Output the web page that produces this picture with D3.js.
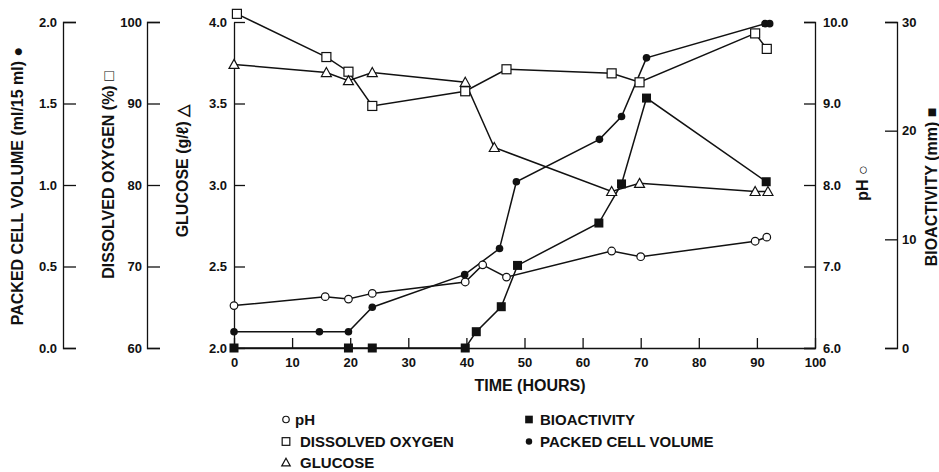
<!DOCTYPE html>
<html><head><meta charset="utf-8">
<script src="https://cdn.jsdelivr.net/npm/d3@7"></script>
<style>
body{margin:0;background:#fff}
text{font-family:"Liberation Sans",Arial,Helvetica,sans-serif;font-weight:bold;fill:#111}
</style></head>
<body><svg id="c" width="939" height="472"></svg>
<script>
// ---- data ----
const timeTicks = [0,10,20,30,40,50,60,70,80,90,100];
const pcvTicks = [0,0.5,1,1.5,2];
const doTicks = [60,70,80,90,100];
const glucoseTicks = [2,2.5,3,3.5,4];
const phTicks = [6,7,8,9,10];
const bioTicks = [0,10,20,30];

const doTime = [0.5,15.9,19.7,23.8,39.8,46.9,65.0,69.8,89.7,91.7];
const doVal  = [101,95.7,93.9,89.7,91.5,94.2,93.7,92.6,98.6,96.7];

const gluTime = [0,15.9,19.7,23.8,39.8,44.8,65.0,69.8,89.7,91.9];
const gluVal  = [3.74,3.69,3.64,3.69,3.63,3.23,2.96,3.01,2.96,2.96];

const phTime = [0,15.7,19.7,23.8,39.8,42.8,46.9,65.0,70.0,89.7,91.7];
const phVal  = [6.52,6.63,6.60,6.67,6.81,7.02,6.87,7.19,7.12,7.31,7.36];

const pcvTime = [0,14.7,19.7,23.8,39.7,45.7,48.6,62.9,66.7,71.0,91.4,92.2];
const pcvVal  = [0.10,0.10,0.10,0.25,0.45,0.61,1.02,1.28,1.42,1.78,1.99,1.99];

const bioTime = [0,19.7,23.8,39.8,41.7,46.0,48.8,62.8,66.7,71.0,91.6];
const bioVal  = [0,0,0,0,1.5,3.8,7.6,11.5,15.1,23.0,15.3];

const legendRows = [
  {label:"pH", sym:"circleOpen", col:0, row:0},
  {label:"DISSOLVED OXYGEN", sym:"squareOpen", col:0, row:1},
  {label:"GLUCOSE", sym:"triangleOpen", col:0, row:2},
  {label:"BIOACTIVITY", sym:"squareFill", col:1, row:0},
  {label:"PACKED CELL VOLUME", sym:"circleFill", col:1, row:1}
];

// ---- layout ----
const svg = d3.select("#c");
const plotTop = 22, plotBottom = 348;
const x = d3.scaleLinear().domain([0,100]).range([234,815]);
const yG = d3.scaleLinear().domain([2,4]).range([plotBottom,plotTop]);
const yDO = d3.scaleLinear().domain([60,100]).range([plotBottom,plotTop]);
const yPH = d3.scaleLinear().domain([6,10]).range([plotBottom,plotTop]);
const yPCV = d3.scaleLinear().domain([0,2]).range([plotBottom,plotTop]);
const yBio = d3.scaleLinear().domain([0,30]).range([plotBottom,plotTop]);

function styleAxis(g, fs){
  g.selectAll("path,line").attr("stroke","#111").attr("stroke-width",1.3);
  g.selectAll("text").attr("font-size",fs).attr("fill","#111");
  g.attr("font-family",null).attr("font-size",null);
}

svg.append("g").attr("transform","translate(63,0)")
  .call(d3.axisLeft(yPCV).tickValues(pcvTicks).tickFormat(d3.format(".1f")).tickSize(-13).tickPadding(6))
  .call(g=>styleAxis(g,13));
svg.append("g").attr("transform","translate(147,0)")
  .call(d3.axisLeft(yDO).tickValues(doTicks).tickFormat(d3.format("d")).tickSize(-13).tickPadding(5))
  .call(g=>styleAxis(g,13));
svg.append("g").attr("transform","translate(234,0)")
  .call(d3.axisLeft(yG).tickValues(glucoseTicks).tickFormat(d3.format(".1f")).tickSizeInner(-11).tickSizeOuter(0).tickPadding(7))
  .call(g=>styleAxis(g,13));
svg.append("g").attr("transform",`translate(0,${plotBottom})`)
  .call(d3.axisBottom(x).tickValues(timeTicks).tickFormat(d3.format("d")).tickSizeInner(-10).tickSizeOuter(0).tickPadding(10))
  .call(g=>styleAxis(g,13));
svg.append("g").attr("transform","translate(815,0)")
  .call(d3.axisRight(yPH).tickValues(phTicks).tickFormat(d3.format(".1f")).tickSize(-11).tickPadding(8))
  .call(g=>styleAxis(g,13));
svg.append("g").attr("transform","translate(897,0)")
  .call(d3.axisRight(yBio).tickValues(bioTicks).tickFormat(d3.format("d")).tickSize(-12).tickPadding(5))
  .call(g=>styleAxis(g,13));

function vtitle(cx, cy, txt){
  svg.append("text").attr("transform",`translate(${cx},${cy}) rotate(-90)`)
    .attr("text-anchor","middle").attr("font-size",16).text(txt);
}
vtitle(23,186,"PACKED CELL VOLUME (ml/15 ml) \u25CF");
vtitle(114,175,"DISSOLVED OXYGEN (%) \u25A1");
vtitle(188,171,"GLUCOSE (g/\u2113) \u25B3");
vtitle(868,183,"pH \u25CB");
vtitle(937,187,"BIOACTIVITY (mm) \u25A0");
svg.append("text").attr("x",530).attr("y",391).attr("text-anchor","middle").attr("font-size",16).text("TIME (HOURS)");

const line = (ys) => d3.line().x(d=>x(d[0])).y(d=>ys(d[1]));
const series = [
  {t:doTime, v:doVal, y:yDO, sym:"squareOpen"},
  {t:gluTime, v:gluVal, y:yG, sym:"triangleOpen"},
  {t:phTime, v:phVal, y:yPH, sym:"circleOpen"},
  {t:pcvTime, v:pcvVal, y:yPCV, sym:"circleFill"},
  {t:bioTime, v:bioVal, y:yBio, sym:"squareFill"}
];
series.forEach(s=>{
  const pts = s.t.map((t,i)=>[t,s.v[i]]);
  svg.append("path").datum(pts).attr("d",line(s.y))
    .attr("fill","none").attr("stroke","#111").attr("stroke-width",1.5);
});
function drawSym(g, sym, cx, cy, k){
  k = k || 1;
  switch(sym){
    case "circleOpen": g.append("circle").attr("cx",cx).attr("cy",cy).attr("r",3.8*k).attr("fill","#fff").attr("stroke","#111").attr("stroke-width",1.2); break;
    case "circleFill": g.append("circle").attr("cx",cx).attr("cy",cy).attr("r",3.8*k).attr("fill","#111"); break;
    case "squareOpen": g.append("rect").attr("x",cx-4.5*k).attr("y",cy-4.5*k).attr("width",9*k).attr("height",9*k).attr("fill","#fff").attr("stroke","#111").attr("stroke-width",1.2); break;
    case "squareFill": g.append("rect").attr("x",cx-4.5*k).attr("y",cy-4.5*k).attr("width",9*k).attr("height",9*k).attr("fill","#111"); break;
    case "triangleOpen": g.append("path").attr("d",`M${cx},${cy-5*k}L${cx+5*k},${cy+4*k}L${cx-5*k},${cy+4*k}Z`).attr("fill","#fff").attr("stroke","#111").attr("stroke-width",1.2); break;
  }
}
series.forEach(s=>{
  const g = svg.append("g");
  s.t.forEach((t,i)=>drawSym(g, s.sym, x(t), s.y(s.v[i])));
});

const legX = [286, 529], legTX = [300, 540], legBase = [425, 447, 468];
legendRows.forEach(r=>{
  const g = svg.append("g");
  drawSym(g, r.sym, legX[r.col], legBase[r.row]-5.5, 0.85);
  g.append("text").attr("x", r.label==="pH" ? 295 : legTX[r.col]).attr("y", legBase[r.row])
    .attr("font-size",15).text(r.label);
});
</script></body></html>
